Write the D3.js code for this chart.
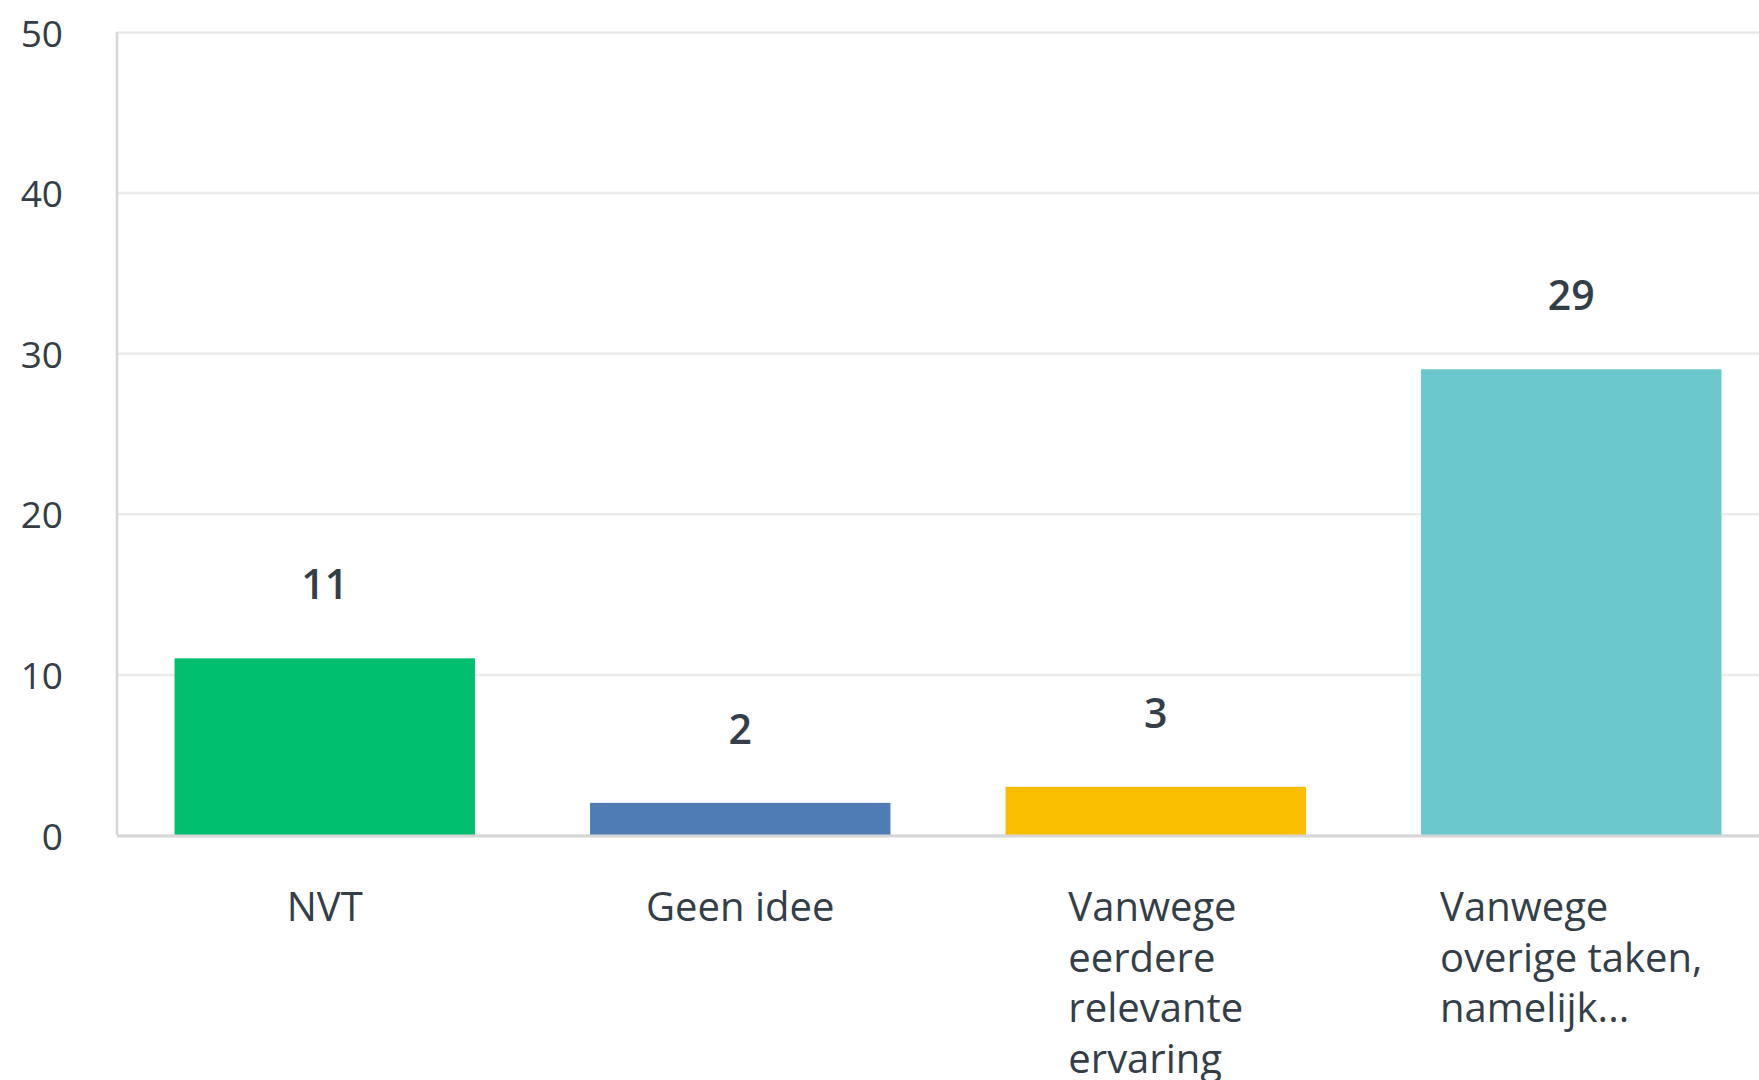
<!DOCTYPE html>
<html>
<head>
<meta charset="utf-8">
<script src="https://cdn.jsdelivr.net/npm/d3@7"></script>
<style>
  html, body { margin: 0; padding: 0; background: #ffffff; }
  svg { display: block; }
  text { font-family: "Open Sans", "Noto Sans", sans-serif; fill: #333e48; }
</style>
</head>
<body>
<svg id="chart" width="1759" height="1080"></svg>
<script>
// ---- data ----
const categories = ["NVT", "Geen idee", "Vanwege eerdere relevante ervaring", "Vanwege overige taken, namelijk..."];
const categoryLines = [
  ["NVT"],
  ["Geen idee"],
  ["Vanwege", "eerdere", "relevante", "ervaring"],
  ["Vanwege", "overige taken,", "namelijk..."]
];
const values = [11, 2, 3, 29];
const barColors = ["#00bf6f", "#507cb6", "#f9be00", "#6bc8cd"];
const yTicks = [0, 10, 20, 30, 40, 50];

// ---- layout ----
const svg = d3.select("#chart");
const plotLeft = 117, plotRight = 1779, plotTop = 32, plotBottom = 835;

const x = d3.scaleBand()
  .domain(categories)
  .range([plotLeft, plotRight])
  .paddingInner(0.277)
  .paddingOuter(0.1385);

const y = d3.scaleLinear().domain([0, 50]).range([plotBottom, plotTop]);

// gridlines + tick labels
const yAxis = d3.axisLeft(y)
  .tickValues(yTicks)
  .tickSize(-(plotRight - plotLeft))
  .tickPadding(54)
  .tickFormat(d3.format("d"));

const gy = svg.append("g")
  .attr("transform", `translate(${plotLeft},0)`)
  .call(yAxis);
gy.select(".domain").remove();
gy.selectAll(".tick line").attr("stroke", "#ebebeb").attr("stroke-width", 2.5);
gy.selectAll(".tick text")
  .attr("fill", "#333e48")
  .attr("font-size", 37)
  .attr("dy", "0.38em")
  .style("font-family", "'Open Sans', sans-serif");

// left axis line
svg.append("line")
  .attr("x1", plotLeft).attr("x2", plotLeft)
  .attr("y1", y(50)).attr("y2", y(0))
  .attr("stroke", "#d6d6d6").attr("stroke-width", 2.5);

// bars
svg.append("g").selectAll("rect")
  .data(values)
  .join("rect")
  .attr("x", (d, i) => x(categories[i]))
  .attr("width", x.bandwidth())
  .attr("y", d => y(d))
  .attr("height", d => y(0) - y(d))
  .attr("fill", (d, i) => barColors[i]);

// baseline axis line
svg.append("line")
  .attr("x1", plotLeft).attr("x2", plotRight)
  .attr("y1", y(0) + 1).attr("y2", y(0) + 1)
  .attr("stroke", "#d6d6d6").attr("stroke-width", 3);

// value labels
svg.append("g").selectAll("text")
  .data(values)
  .join("text")
  .attr("x", (d, i) => x(categories[i]) + x.bandwidth() / 2)
  .attr("y", d => y(d) - 59)
  .attr("text-anchor", "middle")
  .attr("font-size", 41)
  .attr("font-weight", 600)
  .text(d => d);

// category labels (block centred, lines left-aligned)
const lineHeight = 50.5;
const firstBaseline = 921;
categoryLines.forEach((lines, i) => {
  const cx = x(categories[i]) + x.bandwidth() / 2;
  const t = svg.append("text")
    .attr("font-size", 40)
    .attr("text-anchor", "start");
  lines.forEach((ln, j) => {
    t.append("tspan")
      .attr("y", firstBaseline + j * lineHeight)
      .text(ln);
  });
  let maxW = 0;
  t.selectAll("tspan").each(function () {
    maxW = Math.max(maxW, this.getComputedTextLength());
  });
  t.selectAll("tspan").attr("x", cx - maxW / 2);
});
</script>
</body>
</html>
